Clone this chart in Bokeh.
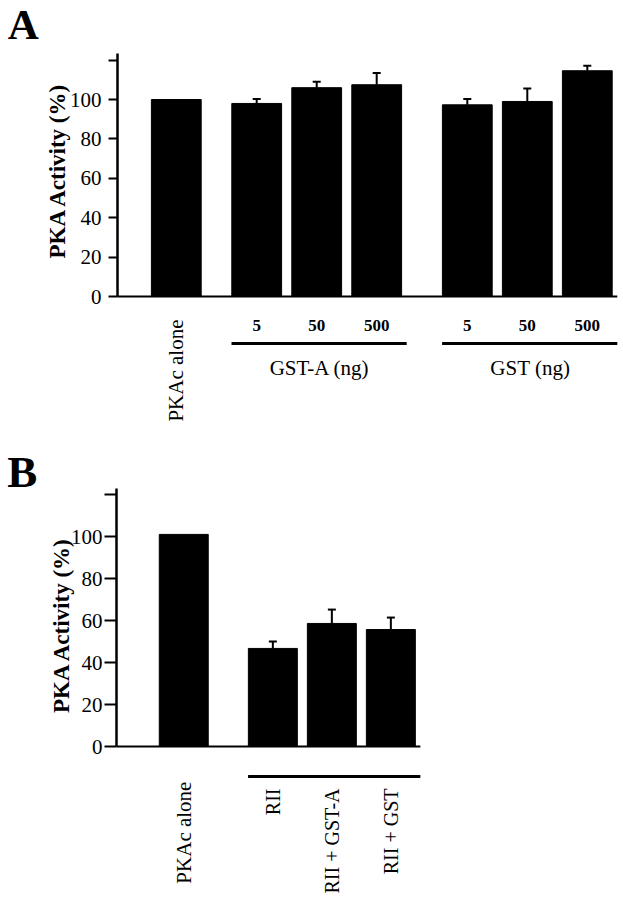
import math
from bokeh.plotting import figure
from bokeh.models import ColumnDataSource, Range1d, FixedTicker, Whisker, TeeHead
from bokeh.layouts import column
from bokeh.core.properties import value
from bokeh.embed import file_html
from bokeh.resources import INLINE

SERIF = "Liberation Serif"

# ---------------- data: panel A ----------------
A_groups = [["PKAc alone"], ["5", "50", "500"], ["5", "50", "500"]]
A_group_titles = ["", "GST-A (ng)", "GST (ng)"]
A_values = [100, 98, 106, 107.5, 97.3, 99, 114.6]
A_errors = [0, 2.2, 3, 6, 3, 6.6, 2.5]

# ---------------- data: panel B ----------------
B_groups = [["PKAc alone"], ["RII", "RII + GST-A", "RII + GST"]]
B_group_titles = ["", ""]
B_values = [101, 46.7, 58.6, 55.7]
B_errors = [0, 3.3, 6.6, 5.7]

Y_TICKS = [0, 20, 40, 60, 80, 100, 120]


def positions(groups, first, gaps):
    xs, spans = [], []
    x = first
    for g, items in enumerate(groups):
        start = x
        for _ in items:
            xs.append(x)
            x += 1
        spans.append((start, x - 1))
        x += gaps[g]
    return xs, spans


def panel(letter, groups, titles, values, errors, *, height, px_unit, px_per_val,
          axis_px, zero_px, first, gaps, sub_rotated, sub_y, line_y,
          title_y, first_label_y, axis_top, ylab_x, ylab_y, letter_x, letter_y,
          letter_size, tick_out, standoff):
    W = 623
    x0 = -axis_px / px_unit
    x1 = (W - axis_px) / px_unit
    y1 = zero_px / px_per_val
    y0 = -(height - zero_px) / px_per_val
    p = figure(width=W, height=height, output_backend="svg", toolbar_location=None,
               x_range=Range1d(x0, x1), y_range=Range1d(y0, y1),
               min_border=0, min_border_left=0, min_border_right=0,
               min_border_top=0, min_border_bottom=0)
    p.outline_line_color = None
    p.grid.visible = False
    p.xaxis.visible = False
    ax = p.yaxis[0]
    ax.fixed_location = 0
    ax.bounds = (0, axis_top)
    ax.ticker = FixedTicker(ticks=Y_TICKS)
    ax.major_label_overrides = {120: ""}
    ax.axis_line_width = 2.5
    ax.axis_line_color = "black"
    ax.major_tick_line_width = 2
    ax.major_tick_out = tick_out
    ax.major_tick_in = 0
    ax.minor_tick_out = 0
    ax.minor_tick_in = 0
    ax.major_label_text_font = SERIF
    ax.major_label_text_font_size = "21px"
    ax.major_label_text_color = "black"
    ax.major_label_standoff = standoff

    xs, spans = positions(groups, first, gaps)
    labels = [it for items in groups for it in items]
    src = ColumnDataSource(dict(x=xs, top=values))
    p.vbar(x="x", top="top", bottom=0, width=0.83, source=src,
           fill_color="black", line_color="black")
    err_src = ColumnDataSource(dict(
        x=[x for x, e in zip(xs, errors) if e > 0],
        lower=[v for v, e in zip(values, errors) if e > 0],
        upper=[v + e for v, e in zip(values, errors) if e > 0],
    ))
    p.add_layout(Whisker(source=err_src, base="x", lower="lower", upper="upper",
                         lower_head=None,
                         upper_head=TeeHead(size=8, line_width=2, line_color="black"),
                         line_width=2, line_color="black"))
    # baseline (x axis line)
    p.segment(x0=[0], y0=[0], x1=[xs[-1] + 0.5], y1=[0], line_width=2, line_color="black")

    # first (single) category label, rotated
    p.text(x=[xs[0]], y=[first_label_y], text=[labels[0]], angle=math.pi / 2,
           text_align="right", text_baseline="middle", text_font=value(SERIF),
           text_font_size="21px", text_color="black")
    # sub labels
    sub_x = xs[1:]
    sub_t = labels[1:]
    if sub_rotated:
        p.text(x=sub_x, y=[sub_y] * len(sub_x), text=sub_t, angle=math.pi / 2,
               text_align="right", text_baseline="middle", text_font=value(SERIF),
               text_font_size="20px", text_color="black")
    else:
        p.text(x=sub_x, y=[sub_y] * len(sub_x), text=sub_t,
               text_align="center", text_baseline="middle", text_font=value(SERIF),
               text_font_size="17px", text_font_style="bold", text_color="black")
    # group lines and titles
    for (a, b), t in list(zip(spans, titles))[1:]:
        p.segment(x0=[a - 0.42], y0=[line_y], x1=[b + 0.5], y1=[line_y],
                  line_width=3, line_color="black")
        if t:
            p.text(x=[(a + b) / 2 + 0.05], y=[title_y], text=[t],
                   text_align="center", text_baseline="middle", text_font=value(SERIF),
                   text_font_size="21px", text_color="black")
    # y axis title
    p.text(x=[ylab_x], y=[ylab_y], text=["PKA Activity (%)"], angle=math.pi / 2,
           text_align="center", text_baseline="middle", text_font=value(SERIF),
           text_font_size="23px", text_font_style="bold", text_color="black")
    # panel letter
    p.text(x=[letter_x], y=[letter_y], text=[letter], text_align="left",
           text_baseline="alphabetic", text_font=value(SERIF),
           text_font_size=letter_size, text_font_style="bold", text_color="black")
    return p


pA = panel("A", A_groups, A_group_titles, A_values, A_errors,
           height=440, px_unit=60, px_per_val=1.97, axis_px=117, zero_px=296,
           first=0.98, gaps=[0.34, 0.51, 0], sub_rotated=False, sub_y=-14.7,
           line_y=-23.9, title_y=-36.5, first_label_y=-11.7,
           axis_top=123.4, ylab_x=-1.0, ylab_y=64, letter_x=-1.83, letter_y=138.3,
           letter_size="43px", tick_out=9, standoff=7)

pB = panel("B", B_groups, B_group_titles, B_values, B_errors,
           height=460, px_unit=59, px_per_val=2.1, axis_px=116, zero_px=306,
           first=1.14, gaps=[0.51, 0], sub_rotated=True, sub_y=-20,
           line_y=-14.3, title_y=-30, first_label_y=-16.7,
           axis_top=122.9, ylab_x=-0.93, ylab_y=57.9, letter_x=-1.85, letter_y=130.5,
           letter_size="45px", tick_out=12, standoff=2)

layout = column(pA, pB, spacing=0)
open("out.html", "w").write(file_html(layout, INLINE))
